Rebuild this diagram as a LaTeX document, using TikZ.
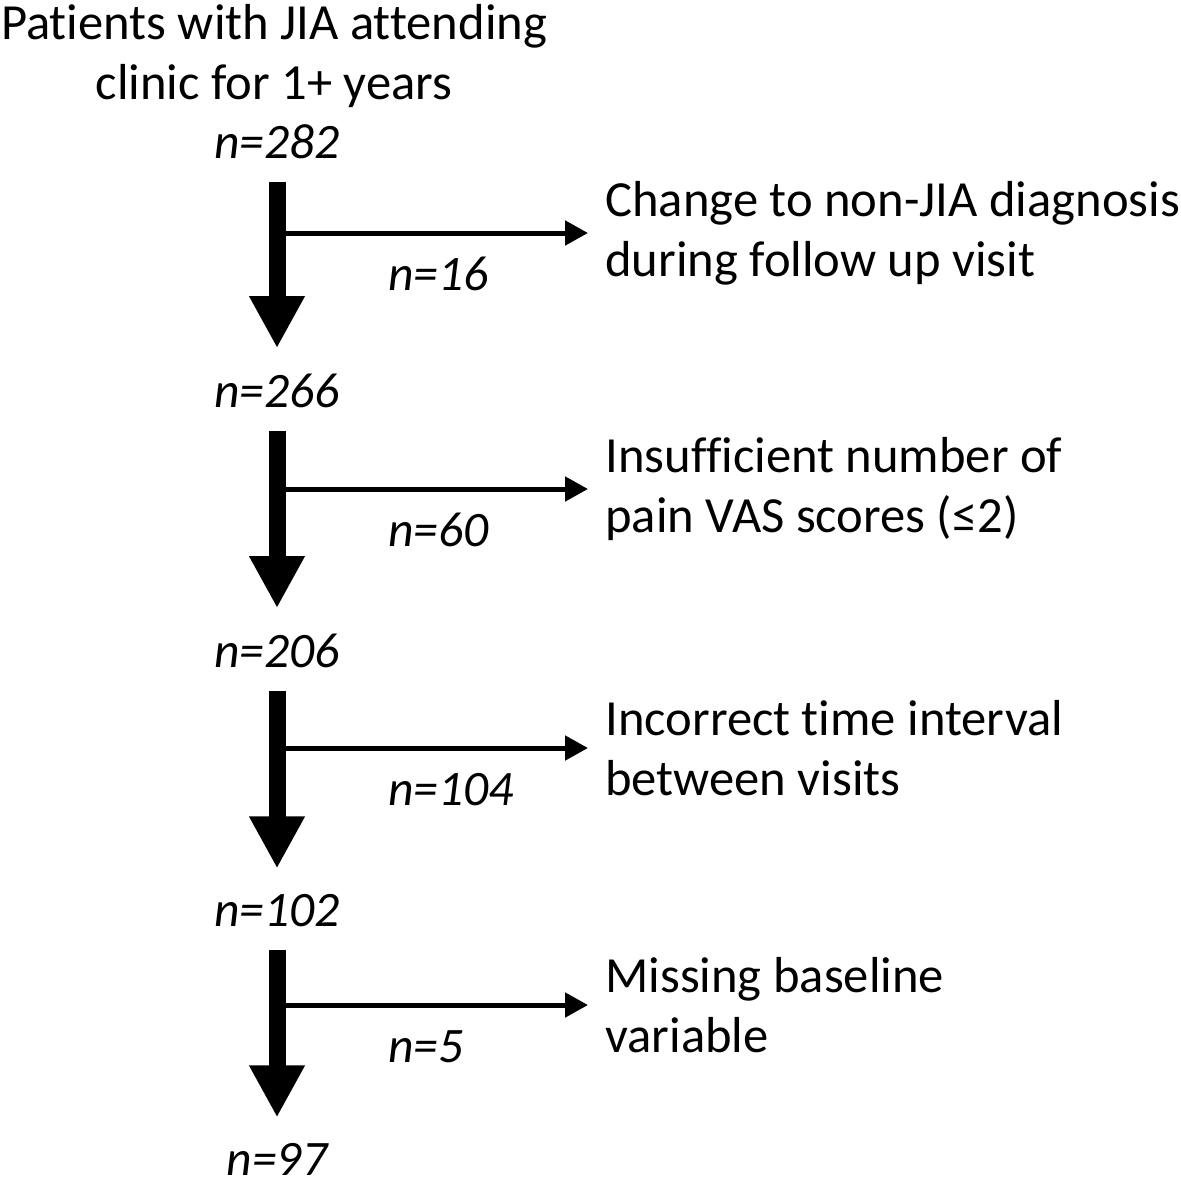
\documentclass[tikz,border=0pt]{standalone}
\usepackage{fontspec}
\setmainfont{Carlito}[Ligatures=NoCommon]
\usepackage{tikz}
\usetikzlibrary{arrows.meta,positioning,calc}

\begin{document}
\begin{tikzpicture}[x=0.5pt,y=-0.5pt,
          txt/.style={inner sep=0pt,font=\fontsize{25.3}{30}\selectfont},
          cnt/.style={txt,font=\fontsize{24.8}{30}\selectfont\itshape,anchor=base},
          excl/.style={txt,align=left,anchor=west},
          nlab/.style={cnt,anchor=base west},
          mainflow/.style={line width=8.5pt,-{Triangle[length=26pt,width=26pt]},
                           shorten <=11.5pt,shorten >=12.5pt},
          exclflow/.style={line width=2.5pt,-{Triangle[length=11.5pt,width=12pt]},
                           shorten >=8.5pt},
        ]
        \useasboundingbox (0,0) rectangle (1181,1180);
        % start
        \node[txt,align=center,anchor=north] (top) at (274,4)
             {Patients with JIA attending\\clinic for 1+ years};
        % counts down the flow
        \node[cnt] (s0) at (277,158){n=282};
        \node[cnt] (s1) at (277,407){n=266};
        \node[cnt] (s2) at (277,667){n=206};
        \node[cnt] (s3) at (277,926){n=102};
        \node[cnt] (s4) at (277,1175){n=97};
        % exclusions
        \node[excl] (e1) at (605,233){Change to non-JIA diagnosis\\during follow up visit};
        \node[excl] (e2) at (605,489){Insufficient number of\\pain VAS scores (≤2)};
        \node[excl] (e3) at (605,748){Incorrect time interval\\between visits};
        \node[excl] (e4) at (605,1005){Missing baseline\\variable};
        \foreach \a/\b/\e/\n in {s0/s1/e1/16,s1/s2/e2/60,s2/s3/e3/104,s3/s4/e4/5}{
          \draw[mainflow](\a.south)--(\b.north);
          \coordinate (b\e) at (\e.west -| \a);
          \draw[exclflow](b\e)--(\e.west);
          \node[nlab] (d\e) at ([xshift=55.5pt,yshift=-28.5pt]b\e){n=\n};
        }
      \end{tikzpicture}
\end{document}
